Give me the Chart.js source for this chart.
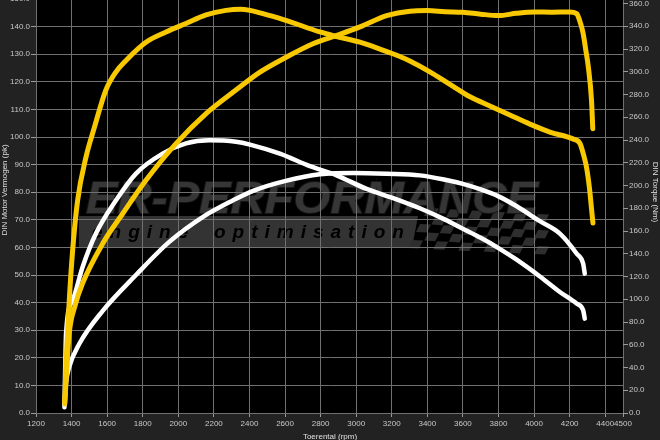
<!DOCTYPE html>
<html>
<head>
<meta charset="utf-8">
<script src="https://cdn.jsdelivr.net/npm/chart.js@4.4.1/dist/chart.umd.min.js"></script>
<style>
  html, body { margin: 0; padding: 0; background: #222; overflow: hidden; }
  #wrap { position: relative; width: 660px; height: 440px; overflow: hidden; background: #222; }
  #dyno { position: absolute; left: 0; top: -11px; }
</style>
</head>
<body>
<div id="wrap"><canvas id="dyno" width="660" height="451" style="width:660px;height:451px"></canvas></div>
<script>
// axis ticks
const rpmTicks = [1200,1400,1600,1800,2000,2200,2400,2600,2800,3000,3200,3400,3600,3800,4000,4200,4400,4500];
const pkTicks = [0,10,20,30,40,50,60,70,80,90,100,110,120,130,140,150];
const nmTicks = [0,20,40,60,80,100,120,140,160,180,200,220,240,260,280,300,320,340,360];

// tuned (yellow)
const rpmTunedPower = [1362,1375,1387,1420,1462,1575,1687,1818,1987,2156,2324,2459,2609,2757,2890,3021,3171,3302,3400,3500,3600,3700,3800,3900,4000,4100,4200,4239,4262,4276,4292,4305,4323,4330];
const tunedPower    = [4,18,29,39,47,61.4,72.2,84.3,97.6,108.5,117,123.5,129,133.8,136.8,139.9,144,145.6,145.8,145.4,145.2,144.5,144,144.8,145.3,145.2,145.3,144.7,141,137.5,131,125.4,113.3,103];

const rpmTunedTorque = [1362,1368,1378,1387,1406,1434,1481,1528,1593,1650,1706,1818,1931,2043,2156,2268,2350,2403,2500,2609,2796,2890,3021,3134,3246,3302,3414,3527,3640,3752,3864,3977,4089,4218,4258,4280,4295,4312,4324,4331];
const tunedTorque    = [8,40,70,99,143,187,225,251,284,300,310,326,335,342.5,350,354,355,354,350,345,335,331,326,320,313.5,309.5,300,289,278,270,262,254,247,241,237,226,216,197,178,167];

// stock (white)
const rpmStockPower = [1360,1369,1387,1443,1575,1762,1949,2137,2306,2421,2609,2796,2984,3171,3358,3500,3600,3700,3800,3900,4033,4145,4239,4276,4285];
const stockPower    = [3,11,16.7,25,37,50,62,71,77,80.5,84.2,86.5,87,86.7,86.1,84.5,83,81,78.5,75,69.5,65,57.8,54.1,50.5];

const rpmStockTorque = [1360,1369,1406,1462,1537,1650,1762,1912,2043,2174,2324,2403,2571,2740,2890,3058,3208,3358,3500,3600,3700,3800,3900,4033,4145,4239,4276,4285];
const stockTorque    = [5,70,99,128.4,157.8,187,210.5,228,237,239.8,238.5,236,228,217,209,197,189,180,170,162,154,145,135,120,106.4,96.2,90.3,83];

const FONT = "'Liberation Sans', Arial, sans-serif";
const OY = 11; // canvas is shifted up so the plot touches the top edge

function pts(xs, ys) { return xs.map((x, i) => ({ x, y: ys[i] })); }
function fixedTicks(list) { return scale => { scale.ticks = list.map(v => ({ value: v })); }; }

function drawLogo(ctx, a) {
  // band with the slogan
  ctx.fillStyle = '#333';
  ctx.beginPath();
  ctx.moveTo(79, 216 + OY); ctx.lineTo(418, 216 + OY); ctx.lineTo(412, 248 + OY); ctx.lineTo(79, 248 + OY);
  ctx.closePath(); ctx.fill();

  ctx.fillStyle = '#000';
  ctx.font = 'italic bold 19px ' + FONT;
  ctx.textBaseline = 'alphabetic';
  ctx.letterSpacing = '7px';
  ctx.fillText('engine', 92, 238 + OY);
  ctx.fillText('optimisation', 214, 238 + OY);
  ctx.letterSpacing = '0px';

  // checkered flag
  const cw = 11, ch = 8;
  for (let r = 0; r < 5; r++) {
    for (let c = 0; c < 11; c++) {
      if ((r + c) % 2) continue;
      const x0 = 428 + c * cw - r * 4 + r * c * 0.4;
      const y0 = 208 + r * ch + c * 0.6 + OY;
      ctx.fillStyle = '#2e2e2e';
      ctx.beginPath();
      ctx.moveTo(x0, y0); ctx.lineTo(x0 + cw, y0 + 0.6);
      ctx.lineTo(x0 + cw - 4, y0 + ch + 0.6); ctx.lineTo(x0 - 4, y0 + ch);
      ctx.closePath(); ctx.fill();
    }
  }

  // big name
  const txt = 'ER-PERFORMANCE';
  ctx.font = 'italic bold 45px ' + FONT;
  const w = ctx.measureText(txt).width;
  ctx.save();
  ctx.translate(86, 213 + OY);
  ctx.scale(452 / w, 1);
  ctx.fillStyle = '#363636';
  ctx.strokeStyle = '#151515';
  ctx.lineWidth = 2;
  ctx.strokeText(txt, 0, 0);
  ctx.fillText(txt, 0, 0);
  ctx.restore();
}

const backdrop = {
  id: 'backdrop',
  beforeDraw(chart) {
    const { ctx, chartArea: a } = chart;
    ctx.save();
    ctx.fillStyle = '#222';
    ctx.fillRect(0, 0, chart.width, chart.height);
    ctx.fillStyle = '#000';
    ctx.fillRect(a.left, a.top, a.right - a.left, a.bottom - a.top);
    ctx.beginPath();
    ctx.rect(a.left, a.top, a.right - a.left, a.bottom - a.top);
    ctx.clip();
    drawLogo(ctx, a);
    ctx.restore();
  },
  afterDraw(chart) {
    const ctx = chart.ctx;
    ctx.save();
    ctx.fillStyle = '#e0e0e0';
    ctx.font = '8px ' + FONT;
    ctx.textAlign = 'center';
    ctx.textBaseline = 'middle';
    ctx.fillText('Toerental (rpm)', 330, 437 + OY);
    ctx.save();
    ctx.translate(5, 190 + OY);
    ctx.rotate(-Math.PI / 2);
    ctx.fillText('DIN Motor Vermogen (pk)', 0, 0);
    ctx.restore();
    ctx.translate(655, 192 + OY);
    ctx.rotate(Math.PI / 2);
    ctx.fillText('DIN Torque (Nm)', 0, 0);
    ctx.restore();
  }
};

const YELLOW = '#f8c800';
const WHITE = '#ffffff';
function line(label, data, color, axis, width) {
  return {
    label, data, yAxisID: axis,
    borderColor: color, backgroundColor: color,
    borderWidth: width, pointRadius: 0,
    borderCapStyle: 'round', borderJoinStyle: 'round',
    cubicInterpolationMode: 'monotone', fill: false
  };
}

new Chart(document.getElementById('dyno'), {
  type: 'line',
  data: {
    datasets: [
      line('Vermogen (tuned)', pts(rpmTunedPower, tunedPower), YELLOW, 'pk', 5),
      line('Torque (tuned)', pts(rpmTunedTorque, tunedTorque), YELLOW, 'nm', 5),
      line('Vermogen (stock)', pts(rpmStockPower, stockPower), WHITE, 'pk', 4.5),
      line('Torque (stock)', pts(rpmStockTorque, stockTorque), WHITE, 'nm', 4.5)
    ]
  },
  options: {
    responsive: false,
    animation: false,
    layout: { padding: { top: 10, left: 0, right: 0, bottom: 0 } },
    plugins: { legend: { display: false }, tooltip: { enabled: false } },
    scales: {
      x: {
        type: 'linear', min: 1200, max: 4500,
        afterBuildTicks: fixedTicks(rpmTicks),
        afterFit: s => { s.height = 27; },
        grid: { color: '#707070', lineWidth: 1, tickLength: 4, tickColor: '#9a9a9a' },
        border: { display: false },
        ticks: { autoSkip: false, maxRotation: 0, padding: 2, color: '#c8c8c8', font: { size: 8, family: FONT }, callback: v => String(v) }
      },
      pk: {
        type: 'linear', position: 'left', min: 0, max: 150,
        afterBuildTicks: fixedTicks(pkTicks),
        afterFit: s => { s.width = 36; },
        grid: { color: '#707070', lineWidth: 1, tickLength: 5, tickColor: '#9a9a9a' },
        border: { display: false },
        ticks: { padding: 1, color: '#c8c8c8', font: { size: 8, family: FONT }, callback: v => v.toFixed(1) }
      },
      nm: {
        type: 'linear', position: 'right', min: 0, max: 364,
        afterBuildTicks: fixedTicks(nmTicks),
        afterFit: s => { s.width = 37; },
        grid: { drawOnChartArea: false, tickLength: 5, tickColor: '#9a9a9a' },
        border: { display: false },
        ticks: { padding: 1, color: '#c8c8c8', font: { size: 8, family: FONT }, callback: v => v.toFixed(1) }
      }
    }
  },
  plugins: [backdrop]
});
</script>
</body>
</html>
